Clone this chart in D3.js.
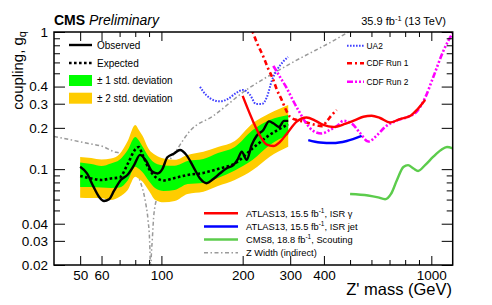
<!DOCTYPE html>
<html><head><meta charset="utf-8">
<script src="https://cdn.jsdelivr.net/npm/d3@7"></script>
<style>body{margin:0;background:#fff} svg{display:block} text{font-family:"Liberation Sans",Arial,Helvetica,sans-serif;fill:#000}</style>
</head><body><svg id="c" width="492" height="305"></svg>
<script>
// ---- data ----
const bandMass = [50,55,60,65,70,75,80,82.5,85,90,95,102,112,125,143,162,187,218,252,295];
const expected = [0.0892,0.0855,0.0834,0.0855,0.0869,0.1091,0.1392,0.145,0.128,0.1003,0.0877,0.0827,0.0862,0.0907,0.0938,0.1003,0.110,0.142,0.178,0.212];
const plus2 = [0.1227,0.1206,0.1176,0.1196,0.129,0.1605,0.210,0.193,0.176,0.1392,0.127,0.1196,0.117,0.127,0.1341,0.1451,0.1605,0.216,0.2556,0.294];
const plus1 = [0.1118,0.1091,0.1055,0.110,0.117,0.138,0.1717,0.162,0.1468,0.1223,0.1104,0.1064,0.106,0.1147,0.1186,0.1312,0.1451,0.193,0.228,0.248];
const minus1 = [0.0741,0.0741,0.0735,0.0729,0.0735,0.0827,0.1042,0.1005,0.0954,0.0816,0.0725,0.0693,0.0705,0.0779,0.0793,0.0862,0.0978,0.117,0.150,0.178];
const minus2 = [0.0619,0.0616,0.0613,0.0596,0.063,0.0705,0.0881,0.0850,0.0813,0.0693,0.0596,0.0573,0.0586,0.0659,0.0685,0.0754,0.0834,0.0986,0.1233,0.1458];

const obsMass = [50,53,56,58.7,61.3,64,66.7,70.7,74.8,79.2,83.3,87.7,92.5,96.7,100.8,105.2,111.4,117.2,124.1,131.3,139,147.2,155.7,164.9,174.6,184.7,192.2,198.4,207,216,225.4,238.6,250.4,259.8,272.7,284.6,295];
const observed = [0.104,0.093,0.0745,0.063,0.0586,0.0603,0.0693,0.0834,0.0907,0.107,0.127,0.115,0.096,0.093,0.100,0.122,0.130,0.138,0.126,0.104,0.0855,0.079,0.0848,0.0933,0.1015,0.107,0.119,0.134,0.117,0.150,0.175,0.193,0.223,0.216,0.203,0.225,0.225];

const zLeftMass = [40,53.2,60.9,66.7,70.2,76.8,83.7,87,89.2,90.4,90.9,91.1];
const zLeftVal  = [0.173,0.1544,0.1458,0.1341,0.1305,0.1042,0.080,0.0596,0.0426,0.0304,0.0207,0.016];
const zRightMass = [91.3,91.5,92.5,93.9,97.4,104.6,114,127.6,155.3,204,299.5,500,530];
const zRightVal  = [0.016,0.020,0.0304,0.0479,0.0659,0.1042,0.138,0.19,0.244,0.372,0.585,1.02,1.1];

const ua2Mass = [139,146.3,155.3,164.9,176.5,189,200.6,213,224,236,246,257,268,282,294.5];
const ua2Val  = [0.398,0.348,0.320,0.312,0.325,0.359,0.378,0.348,0.299,0.299,0.336,0.447,0.529,0.605,0.658];

const cdf1Mass = [211,216,226,238.6,248,259.8,268,279,289.5,299.5,317,340,371,393.6,411,427.6,446];
const cdf1Val  = [1.13,1.036,0.832,0.661,0.547,0.447,0.378,0.320,0.270,0.241,0.228,0.221,0.210,0.206,0.225,0.248,0.270];

const cdf2Mass = [259.8,275,291,308,326,345,365,392.5,421,452,472,507,544,584,628,674,744,822,883,948,1017,1108,1200];
const cdf2Val  = [0.566,0.470,0.391,0.314,0.257,0.214,0.190,0.182,0.193,0.210,0.225,0.215,0.184,0.159,0.176,0.203,0.226,0.241,0.263,0.331,0.470,0.728,0.985];

const atlasGMass = [200,209,219,232,245.6,259.8,275,291,317,345,371,398,434,479,521.6,560,601,645.6,703,765.6,833.7,883,948];
const atlasGVal  = [0.342,0.275,0.221,0.1746,0.151,0.1476,0.158,0.1805,0.222,0.238,0.226,0.210,0.203,0.2136,0.228,0.241,0.245,0.236,0.219,0.232,0.244,0.270,0.320];

const atlasJMass = [350,387,432,486,552];
const atlasJVal  = [0.163,0.1565,0.155,0.1605,0.1746];

const cms8Mass = [500,583,635,674,709,746,788,820,859,893,948,1015,1086,1143,1200];
const cms8Val  = [0.0659,0.0643,0.0622,0.0603,0.0659,0.0834,0.1037,0.107,0.1011,0.097,0.107,0.1227,0.138,0.1451,0.1418];

const xMajorTicks = [50,60,100,200,300,400,1000];
const xTickLabels = ["50","60","100","200","300","400","1000"];
const xMinorTicks = [70,80,90,500,600,700,800,900];
const yMajorTicks = [0.02,0.03,0.04,0.1,0.2,0.3,0.4,1];
const yTickLabels = ["0.02","0.03","0.04","0.1","0.2","0.3","0.4","1"];
const yMinorTicks = [0.05,0.06,0.07,0.08,0.09,0.5,0.6,0.7,0.8,0.9];

// ---- drawing ----
const L=54,R=452.7,T=32,B=265;
const svg=d3.select('#c');
const x=d3.scaleLog().domain([40,1200]).range([L,R]);
const y=d3.scaleLog().domain([0.02,1]).range([B,T]);
const zip=(a,b)=>a.map((v,i)=>[v,b[i]]);

svg.append('defs').append('clipPath').attr('id','clip')
  .append('rect').attr('x',L).attr('y',T).attr('width',R-L).attr('height',B-T);
const g=svg.append('g').attr('clip-path','url(#clip)');

const line=d3.line().x(d=>x(d[0])).y(d=>y(d[1])).curve(d3.curveMonotoneX);
function path(data,color,width,dash){
  const p=g.append('path').attr('d',line(data)).attr('fill','none')
    .attr('stroke',color).attr('stroke-width',width);
  if(dash) p.attr('stroke-dasharray',dash);
  return p;
}

const greyDash='4,2.5,1.5,2.5';
path(zip(zLeftMass,zLeftVal),'#9a9a9a',1.5,greyDash);
path(zip(zRightMass,zRightVal),'#9a9a9a',1.5,greyDash);

const band=(lo,hi)=>d3.area().x((d,i)=>x(bandMass[i])).y0((d,i)=>y(lo[i])).y1((d,i)=>y(hi[i])).curve(d3.curveMonotoneX)(bandMass);
g.append('path').attr('d',band(minus2,plus2)).attr('fill','#ffcc00');
g.append('path').attr('d',band(minus1,plus1)).attr('fill','#00ff00');

path(zip(bandMass,expected),'#000',2.6,'2.6,2.4');
path(zip(obsMass,observed),'#000',2.4);

path(zip(ua2Mass,ua2Val),'#4040ff',2,'1.6,1.4');
path(zip(cdf1Mass,cdf1Val),'#ff0000',2.6,'5,3,2,3');
path(zip(cdf2Mass,cdf2Val),'#ff00ff',2.6,'6,2,2,2,2,2,2,2');
path(zip(atlasGMass,atlasGVal),'#ff0000',2.4);
path(zip(atlasJMass,atlasJVal),'#0000ff',2.4);
path(zip(cms8Mass,cms8Val),'#5ccc4c',2.4);

// axes
function style(sel){ sel.select('.domain').remove(); sel.selectAll('line').attr('stroke','#000').attr('stroke-width',1); sel.selectAll('text').attr('font-size','13.5px').attr('font-family','"Liberation Sans",Arial,sans-serif'); }
svg.append('g').attr('transform',`translate(0,${B})`)
  .call(d3.axisBottom(x).tickValues(xMajorTicks).tickFormat((d,i)=>xTickLabels[i]).tickSizeInner(-9).tickSizeOuter(0).tickPadding(5)).call(style);
svg.append('g').attr('transform',`translate(0,${B})`)
  .call(d3.axisBottom(x).tickValues(xMinorTicks).tickFormat('').tickSizeInner(-5).tickSizeOuter(0)).call(style);
svg.append('g').attr('transform',`translate(0,${T})`)
  .call(d3.axisTop(x).tickValues(xMajorTicks).tickFormat('').tickSizeInner(-9).tickSizeOuter(0)).call(style);
svg.append('g').attr('transform',`translate(0,${T})`)
  .call(d3.axisTop(x).tickValues(xMinorTicks).tickFormat('').tickSizeInner(-5).tickSizeOuter(0)).call(style);
svg.append('g').attr('transform',`translate(${L},0)`)
  .call(d3.axisLeft(y).tickValues(yMajorTicks).tickFormat((d,i)=>yTickLabels[i]).tickSizeInner(-11).tickSizeOuter(0).tickPadding(6)).call(style);
svg.append('g').attr('transform',`translate(${L},0)`)
  .call(d3.axisLeft(y).tickValues(yMinorTicks).tickFormat('').tickSizeInner(-6).tickSizeOuter(0)).call(style);
svg.append('g').attr('transform',`translate(${R},0)`)
  .call(d3.axisRight(y).tickValues(yMajorTicks).tickFormat('').tickSizeInner(-11).tickSizeOuter(0)).call(style);
svg.append('g').attr('transform',`translate(${R},0)`)
  .call(d3.axisRight(y).tickValues(yMinorTicks).tickFormat('').tickSizeInner(-6).tickSizeOuter(0)).call(style);

svg.append('rect').attr('x',L).attr('y',T).attr('width',R-L).attr('height',B-T)
  .attr('fill','none').attr('stroke','#000').attr('stroke-width',1.5);

// titles
const t1=svg.append('text').attr('x',54).attr('y',25).attr('font-size','14px');
t1.append('tspan').attr('font-weight','bold').text('CMS');
t1.append('tspan').attr('font-style','italic').text(' Preliminary');
const t2=svg.append('text').attr('x',446).attr('y',25).attr('font-size','11px').attr('text-anchor','end');
t2.append('tspan').text('35.9 fb');
t2.append('tspan').attr('font-size','7.5px').attr('dy','-4').text('-1');
t2.append('tspan').attr('dy','4').text(' (13 TeV)');

const yt=svg.append('text').attr('transform','translate(22.5,31) rotate(-90)').attr('text-anchor','end').attr('font-size','15px');
yt.append('tspan').text('coupling, g');
yt.append('tspan').attr('font-size','11px').attr('dy','3').text('q');
svg.append('text').attr('x',452).attr('y',295).attr('text-anchor','end').attr('font-size','16.5px').text("Z' mass (GeV)");

// legend 1
const lg1=svg.append('g');
lg1.append('line').attr('x1',69).attr('x2',92).attr('y1',45).attr('y2',45).attr('stroke','#000').attr('stroke-width',2.4);
lg1.append('line').attr('x1',69).attr('x2',92).attr('y1',63).attr('y2',63).attr('stroke','#000').attr('stroke-width',2.6).attr('stroke-dasharray','2.6,2.4');
lg1.append('rect').attr('x',69).attr('y',75).attr('width',23).attr('height',11).attr('fill','#00ff00');
lg1.append('rect').attr('x',69).attr('y',92.7).attr('width',23).attr('height',11).attr('fill','#ffcc00');
[['Observed',45],['Expected',63],['\u00b1 1 std. deviation',80.5],['\u00b1 2 std. deviation',98.2]].forEach(([s,yy])=>{
  lg1.append('text').attr('x',97).attr('y',yy+3.6).attr('font-size','10px').text(s);
});

// legend 2
const lg2=svg.append('g');
[['UA2','#4040ff',2,'1.6,1.4',45.7],['CDF Run 1','#ff0000',2.6,'5,3,2,3',63.3],['CDF Run 2','#ff00ff',2.6,'6,2,2,2,2,2,2,2',81.7]].forEach(([s,c,w,d,yy])=>{
  lg2.append('line').attr('x1',347).attr('x2',364).attr('y1',yy).attr('y2',yy).attr('stroke',c).attr('stroke-width',w).attr('stroke-dasharray',d);
  lg2.append('text').attr('x',366.5).attr('y',yy+3).attr('font-size','8.4px').text(s);
});

// legend 3
const lg3=svg.append('g');
const leg3=[
  {c:'#ff0000',w:2.4,d:null,yy:213.3,parts:['ATLAS13, 15.5 fb','-1',', ISR \u03b3']},
  {c:'#0000ff',w:2.4,d:null,yy:226.5,parts:['ATLAS13, 15.5 fb','-1',', ISR jet']},
  {c:'#5ccc4c',w:2.4,d:null,yy:239.5,parts:['CMS8, 18.8 fb','-1',', Scouting']},
  {c:'#9a9a9a',w:1.5,d:greyDash,yy:252.7,parts:['Z Width (indirect)']}
];
leg3.forEach(o=>{
  const l=lg3.append('line').attr('x1',204).attr('x2',238).attr('y1',o.yy).attr('y2',o.yy).attr('stroke',o.c).attr('stroke-width',o.w);
  if(o.d) l.attr('stroke-dasharray',o.d);
  const t=lg3.append('text').attr('x',246).attr('y',o.yy+3.3).attr('font-size','9.3px');
  t.append('tspan').text(o.parts[0]);
  if(o.parts.length>1){
    t.append('tspan').attr('font-size','6.5px').attr('dy','-3.5').text(o.parts[1]);
    t.append('tspan').attr('dy','3.5').text(o.parts[2]);
  }
});
</script></body></html>
